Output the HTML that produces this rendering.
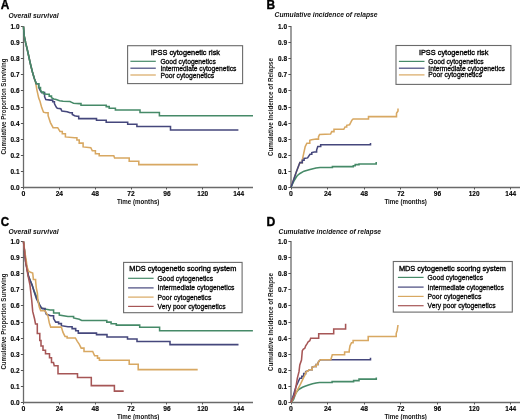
<!DOCTYPE html><html><head><meta charset="utf-8"><style>html,body{margin:0;padding:0;background:#fff;}svg{display:block;will-change:transform;}text{font-family:"Liberation Sans", sans-serif;}</style></head><body>
<svg width="520" height="420" viewBox="0 0 520 420">
<rect width="520" height="420" fill="#fff"/>
<text x="0.7" y="8.5" font-size="12" text-anchor="start" font-weight="bold" font-style="normal" fill="#000" textLength="8.6" lengthAdjust="spacingAndGlyphs" stroke="#000" stroke-width="0.35">A</text>
<text x="8.4" y="17.5" font-size="8.0" text-anchor="start" font-weight="bold" font-style="italic" fill="#111" textLength="50.2" lengthAdjust="spacingAndGlyphs" >Overall survival</text>
<text x="266.6" y="8.5" font-size="12" text-anchor="start" font-weight="bold" font-style="normal" fill="#000" textLength="8.6" lengthAdjust="spacingAndGlyphs" stroke="#000" stroke-width="0.35">B</text>
<text x="274.6" y="17.4" font-size="8.0" text-anchor="start" font-weight="bold" font-style="italic" fill="#111" textLength="103.0" lengthAdjust="spacingAndGlyphs" >Cumulative incidence of relapse</text>
<text x="0.7" y="225.7" font-size="12" text-anchor="start" font-weight="bold" font-style="normal" fill="#000" textLength="8.4" lengthAdjust="spacingAndGlyphs" stroke="#000" stroke-width="0.35">C</text>
<text x="8.4" y="234.0" font-size="8.0" text-anchor="start" font-weight="bold" font-style="italic" fill="#111" textLength="50.2" lengthAdjust="spacingAndGlyphs" >Overall survival</text>
<text x="266.6" y="225.7" font-size="12" text-anchor="start" font-weight="bold" font-style="normal" fill="#000" textLength="8.8" lengthAdjust="spacingAndGlyphs" stroke="#000" stroke-width="0.35">D</text>
<text x="278.6" y="233.9" font-size="8.0" text-anchor="start" font-weight="bold" font-style="italic" fill="#111" textLength="102.5" lengthAdjust="spacingAndGlyphs" >Cumulative incidence of relapse</text>
<line x1="23.5" y1="26.0" x2="23.5" y2="187.5" stroke="#6a6a6a" stroke-width="1.3"/>
<line x1="23.5" y1="187.5" x2="253" y2="187.5" stroke="#6a6a6a" stroke-width="1.3"/>
<line x1="20.9" y1="187.50" x2="23.5" y2="187.50" stroke="#555" stroke-width="1"/>
<text x="19.5" y="190.00" font-size="6.9" text-anchor="end" font-weight="bold" font-style="normal" fill="#000" textLength="9.0" lengthAdjust="spacingAndGlyphs" stroke="#000" stroke-width="0.12">0.0</text>
<line x1="20.9" y1="171.50" x2="23.5" y2="171.50" stroke="#555" stroke-width="1"/>
<text x="19.5" y="173.90" font-size="6.9" text-anchor="end" font-weight="bold" font-style="normal" fill="#000" textLength="9.0" lengthAdjust="spacingAndGlyphs" stroke="#000" stroke-width="0.12">0.1</text>
<line x1="20.9" y1="155.50" x2="23.5" y2="155.50" stroke="#555" stroke-width="1"/>
<text x="19.5" y="157.80" font-size="6.9" text-anchor="end" font-weight="bold" font-style="normal" fill="#000" textLength="9.0" lengthAdjust="spacingAndGlyphs" stroke="#000" stroke-width="0.12">0.2</text>
<line x1="20.9" y1="139.50" x2="23.5" y2="139.50" stroke="#555" stroke-width="1"/>
<text x="19.5" y="141.70" font-size="6.9" text-anchor="end" font-weight="bold" font-style="normal" fill="#000" textLength="9.0" lengthAdjust="spacingAndGlyphs" stroke="#000" stroke-width="0.12">0.3</text>
<line x1="20.9" y1="123.50" x2="23.5" y2="123.50" stroke="#555" stroke-width="1"/>
<text x="19.5" y="125.60" font-size="6.9" text-anchor="end" font-weight="bold" font-style="normal" fill="#000" textLength="9.0" lengthAdjust="spacingAndGlyphs" stroke="#000" stroke-width="0.12">0.4</text>
<line x1="20.9" y1="107.50" x2="23.5" y2="107.50" stroke="#555" stroke-width="1"/>
<text x="19.5" y="109.50" font-size="6.9" text-anchor="end" font-weight="bold" font-style="normal" fill="#000" textLength="9.0" lengthAdjust="spacingAndGlyphs" stroke="#000" stroke-width="0.12">0.5</text>
<line x1="20.9" y1="90.50" x2="23.5" y2="90.50" stroke="#555" stroke-width="1"/>
<text x="19.5" y="93.40" font-size="6.9" text-anchor="end" font-weight="bold" font-style="normal" fill="#000" textLength="9.0" lengthAdjust="spacingAndGlyphs" stroke="#000" stroke-width="0.12">0.6</text>
<line x1="20.9" y1="74.50" x2="23.5" y2="74.50" stroke="#555" stroke-width="1"/>
<text x="19.5" y="77.30" font-size="6.9" text-anchor="end" font-weight="bold" font-style="normal" fill="#000" textLength="9.0" lengthAdjust="spacingAndGlyphs" stroke="#000" stroke-width="0.12">0.7</text>
<line x1="20.9" y1="58.50" x2="23.5" y2="58.50" stroke="#555" stroke-width="1"/>
<text x="19.5" y="61.20" font-size="6.9" text-anchor="end" font-weight="bold" font-style="normal" fill="#000" textLength="9.0" lengthAdjust="spacingAndGlyphs" stroke="#000" stroke-width="0.12">0.8</text>
<line x1="20.9" y1="42.50" x2="23.5" y2="42.50" stroke="#555" stroke-width="1"/>
<text x="19.5" y="45.10" font-size="6.9" text-anchor="end" font-weight="bold" font-style="normal" fill="#000" textLength="9.0" lengthAdjust="spacingAndGlyphs" stroke="#000" stroke-width="0.12">0.9</text>
<line x1="20.9" y1="26.50" x2="23.5" y2="26.50" stroke="#555" stroke-width="1"/>
<text x="19.5" y="29.00" font-size="6.9" text-anchor="end" font-weight="bold" font-style="normal" fill="#000" textLength="9.0" lengthAdjust="spacingAndGlyphs" stroke="#000" stroke-width="0.12">1.0</text>
<line x1="23.50" y1="187.5" x2="23.50" y2="189.5" stroke="#555" stroke-width="1"/>
<text x="23.50" y="196.30" font-size="6.9" text-anchor="middle" font-weight="bold" font-style="normal" fill="#000" stroke="#000" stroke-width="0.12">0</text>
<line x1="59.50" y1="187.5" x2="59.50" y2="189.5" stroke="#555" stroke-width="1"/>
<text x="59.35" y="196.30" font-size="6.9" text-anchor="middle" font-weight="bold" font-style="normal" fill="#000" textLength="7.4" lengthAdjust="spacingAndGlyphs" stroke="#000" stroke-width="0.12">24</text>
<line x1="95.50" y1="187.5" x2="95.50" y2="189.5" stroke="#555" stroke-width="1"/>
<text x="95.20" y="196.30" font-size="6.9" text-anchor="middle" font-weight="bold" font-style="normal" fill="#000" textLength="7.4" lengthAdjust="spacingAndGlyphs" stroke="#000" stroke-width="0.12">48</text>
<line x1="131.50" y1="187.5" x2="131.50" y2="189.5" stroke="#555" stroke-width="1"/>
<text x="131.05" y="196.30" font-size="6.9" text-anchor="middle" font-weight="bold" font-style="normal" fill="#000" textLength="7.4" lengthAdjust="spacingAndGlyphs" stroke="#000" stroke-width="0.12">72</text>
<line x1="166.50" y1="187.5" x2="166.50" y2="189.5" stroke="#555" stroke-width="1"/>
<text x="166.90" y="196.30" font-size="6.9" text-anchor="middle" font-weight="bold" font-style="normal" fill="#000" textLength="7.4" lengthAdjust="spacingAndGlyphs" stroke="#000" stroke-width="0.12">96</text>
<line x1="202.50" y1="187.5" x2="202.50" y2="189.5" stroke="#555" stroke-width="1"/>
<text x="202.75" y="196.30" font-size="6.9" text-anchor="middle" font-weight="bold" font-style="normal" fill="#000" textLength="10.8" lengthAdjust="spacingAndGlyphs" stroke="#000" stroke-width="0.12">120</text>
<line x1="238.50" y1="187.5" x2="238.50" y2="189.5" stroke="#555" stroke-width="1"/>
<text x="238.60" y="196.30" font-size="6.9" text-anchor="middle" font-weight="bold" font-style="normal" fill="#000" textLength="10.8" lengthAdjust="spacingAndGlyphs" stroke="#000" stroke-width="0.12">144</text>
<text x="138.2" y="203.5" font-size="6.8" text-anchor="middle" font-weight="bold" font-style="normal" fill="#111" textLength="42.5" lengthAdjust="spacingAndGlyphs" >Time (months)</text>
<text transform="translate(5.6,106.6) rotate(-90)" x="0" y="0" font-size="6.7" font-weight="bold" text-anchor="middle" fill="#1a1a1a" textLength="96" lengthAdjust="spacingAndGlyphs">Cumulative Proportion Surviving</text>
<line x1="291.0" y1="26.0" x2="291.0" y2="187.5" stroke="#6a6a6a" stroke-width="1.3"/>
<line x1="291.0" y1="187.5" x2="520" y2="187.5" stroke="#6a6a6a" stroke-width="1.3"/>
<line x1="288.4" y1="187.50" x2="291.0" y2="187.50" stroke="#555" stroke-width="1"/>
<text x="287.0" y="190.00" font-size="6.9" text-anchor="end" font-weight="bold" font-style="normal" fill="#000" textLength="9.0" lengthAdjust="spacingAndGlyphs" stroke="#000" stroke-width="0.12">0.0</text>
<line x1="288.4" y1="171.50" x2="291.0" y2="171.50" stroke="#555" stroke-width="1"/>
<text x="287.0" y="173.90" font-size="6.9" text-anchor="end" font-weight="bold" font-style="normal" fill="#000" textLength="9.0" lengthAdjust="spacingAndGlyphs" stroke="#000" stroke-width="0.12">0.1</text>
<line x1="288.4" y1="155.50" x2="291.0" y2="155.50" stroke="#555" stroke-width="1"/>
<text x="287.0" y="157.80" font-size="6.9" text-anchor="end" font-weight="bold" font-style="normal" fill="#000" textLength="9.0" lengthAdjust="spacingAndGlyphs" stroke="#000" stroke-width="0.12">0.2</text>
<line x1="288.4" y1="139.50" x2="291.0" y2="139.50" stroke="#555" stroke-width="1"/>
<text x="287.0" y="141.70" font-size="6.9" text-anchor="end" font-weight="bold" font-style="normal" fill="#000" textLength="9.0" lengthAdjust="spacingAndGlyphs" stroke="#000" stroke-width="0.12">0.3</text>
<line x1="288.4" y1="123.50" x2="291.0" y2="123.50" stroke="#555" stroke-width="1"/>
<text x="287.0" y="125.60" font-size="6.9" text-anchor="end" font-weight="bold" font-style="normal" fill="#000" textLength="9.0" lengthAdjust="spacingAndGlyphs" stroke="#000" stroke-width="0.12">0.4</text>
<line x1="288.4" y1="107.50" x2="291.0" y2="107.50" stroke="#555" stroke-width="1"/>
<text x="287.0" y="109.50" font-size="6.9" text-anchor="end" font-weight="bold" font-style="normal" fill="#000" textLength="9.0" lengthAdjust="spacingAndGlyphs" stroke="#000" stroke-width="0.12">0.5</text>
<line x1="288.4" y1="90.50" x2="291.0" y2="90.50" stroke="#555" stroke-width="1"/>
<text x="287.0" y="93.40" font-size="6.9" text-anchor="end" font-weight="bold" font-style="normal" fill="#000" textLength="9.0" lengthAdjust="spacingAndGlyphs" stroke="#000" stroke-width="0.12">0.6</text>
<line x1="288.4" y1="74.50" x2="291.0" y2="74.50" stroke="#555" stroke-width="1"/>
<text x="287.0" y="77.30" font-size="6.9" text-anchor="end" font-weight="bold" font-style="normal" fill="#000" textLength="9.0" lengthAdjust="spacingAndGlyphs" stroke="#000" stroke-width="0.12">0.7</text>
<line x1="288.4" y1="58.50" x2="291.0" y2="58.50" stroke="#555" stroke-width="1"/>
<text x="287.0" y="61.20" font-size="6.9" text-anchor="end" font-weight="bold" font-style="normal" fill="#000" textLength="9.0" lengthAdjust="spacingAndGlyphs" stroke="#000" stroke-width="0.12">0.8</text>
<line x1="288.4" y1="42.50" x2="291.0" y2="42.50" stroke="#555" stroke-width="1"/>
<text x="287.0" y="45.10" font-size="6.9" text-anchor="end" font-weight="bold" font-style="normal" fill="#000" textLength="9.0" lengthAdjust="spacingAndGlyphs" stroke="#000" stroke-width="0.12">0.9</text>
<line x1="288.4" y1="26.50" x2="291.0" y2="26.50" stroke="#555" stroke-width="1"/>
<text x="287.0" y="29.00" font-size="6.9" text-anchor="end" font-weight="bold" font-style="normal" fill="#000" textLength="9.0" lengthAdjust="spacingAndGlyphs" stroke="#000" stroke-width="0.12">1.0</text>
<line x1="291.50" y1="187.5" x2="291.50" y2="189.5" stroke="#555" stroke-width="1"/>
<text x="291.00" y="196.30" font-size="6.9" text-anchor="middle" font-weight="bold" font-style="normal" fill="#000" stroke="#000" stroke-width="0.12">0</text>
<line x1="327.50" y1="187.5" x2="327.50" y2="189.5" stroke="#555" stroke-width="1"/>
<text x="327.62" y="196.30" font-size="6.9" text-anchor="middle" font-weight="bold" font-style="normal" fill="#000" textLength="7.4" lengthAdjust="spacingAndGlyphs" stroke="#000" stroke-width="0.12">24</text>
<line x1="364.50" y1="187.5" x2="364.50" y2="189.5" stroke="#555" stroke-width="1"/>
<text x="364.24" y="196.30" font-size="6.9" text-anchor="middle" font-weight="bold" font-style="normal" fill="#000" textLength="7.4" lengthAdjust="spacingAndGlyphs" stroke="#000" stroke-width="0.12">48</text>
<line x1="400.50" y1="187.5" x2="400.50" y2="189.5" stroke="#555" stroke-width="1"/>
<text x="400.86" y="196.30" font-size="6.9" text-anchor="middle" font-weight="bold" font-style="normal" fill="#000" textLength="7.4" lengthAdjust="spacingAndGlyphs" stroke="#000" stroke-width="0.12">72</text>
<line x1="437.50" y1="187.5" x2="437.50" y2="189.5" stroke="#555" stroke-width="1"/>
<text x="437.48" y="196.30" font-size="6.9" text-anchor="middle" font-weight="bold" font-style="normal" fill="#000" textLength="7.4" lengthAdjust="spacingAndGlyphs" stroke="#000" stroke-width="0.12">96</text>
<line x1="474.50" y1="187.5" x2="474.50" y2="189.5" stroke="#555" stroke-width="1"/>
<text x="474.10" y="196.30" font-size="6.9" text-anchor="middle" font-weight="bold" font-style="normal" fill="#000" textLength="10.8" lengthAdjust="spacingAndGlyphs" stroke="#000" stroke-width="0.12">120</text>
<line x1="510.50" y1="187.5" x2="510.50" y2="189.5" stroke="#555" stroke-width="1"/>
<text x="510.72" y="196.30" font-size="6.9" text-anchor="middle" font-weight="bold" font-style="normal" fill="#000" textLength="10.8" lengthAdjust="spacingAndGlyphs" stroke="#000" stroke-width="0.12">144</text>
<text x="405.7" y="203.5" font-size="6.8" text-anchor="middle" font-weight="bold" font-style="normal" fill="#111" textLength="42.5" lengthAdjust="spacingAndGlyphs" >Time (months)</text>
<text transform="translate(273.2,107.0) rotate(-90)" x="0" y="0" font-size="6.7" font-weight="bold" text-anchor="middle" fill="#1a1a1a" textLength="98.2" lengthAdjust="spacingAndGlyphs">Cumulative Incidence of Relapse</text>
<line x1="23.5" y1="241.0" x2="23.5" y2="402.5" stroke="#6a6a6a" stroke-width="1.3"/>
<line x1="23.5" y1="402.5" x2="253" y2="402.5" stroke="#6a6a6a" stroke-width="1.3"/>
<line x1="20.9" y1="402.50" x2="23.5" y2="402.50" stroke="#555" stroke-width="1"/>
<text x="19.5" y="405.00" font-size="6.9" text-anchor="end" font-weight="bold" font-style="normal" fill="#000" textLength="9.0" lengthAdjust="spacingAndGlyphs" stroke="#000" stroke-width="0.12">0.0</text>
<line x1="20.9" y1="386.50" x2="23.5" y2="386.50" stroke="#555" stroke-width="1"/>
<text x="19.5" y="388.90" font-size="6.9" text-anchor="end" font-weight="bold" font-style="normal" fill="#000" textLength="9.0" lengthAdjust="spacingAndGlyphs" stroke="#000" stroke-width="0.12">0.1</text>
<line x1="20.9" y1="370.50" x2="23.5" y2="370.50" stroke="#555" stroke-width="1"/>
<text x="19.5" y="372.80" font-size="6.9" text-anchor="end" font-weight="bold" font-style="normal" fill="#000" textLength="9.0" lengthAdjust="spacingAndGlyphs" stroke="#000" stroke-width="0.12">0.2</text>
<line x1="20.9" y1="354.50" x2="23.5" y2="354.50" stroke="#555" stroke-width="1"/>
<text x="19.5" y="356.70" font-size="6.9" text-anchor="end" font-weight="bold" font-style="normal" fill="#000" textLength="9.0" lengthAdjust="spacingAndGlyphs" stroke="#000" stroke-width="0.12">0.3</text>
<line x1="20.9" y1="338.50" x2="23.5" y2="338.50" stroke="#555" stroke-width="1"/>
<text x="19.5" y="340.60" font-size="6.9" text-anchor="end" font-weight="bold" font-style="normal" fill="#000" textLength="9.0" lengthAdjust="spacingAndGlyphs" stroke="#000" stroke-width="0.12">0.4</text>
<line x1="20.9" y1="322.50" x2="23.5" y2="322.50" stroke="#555" stroke-width="1"/>
<text x="19.5" y="324.50" font-size="6.9" text-anchor="end" font-weight="bold" font-style="normal" fill="#000" textLength="9.0" lengthAdjust="spacingAndGlyphs" stroke="#000" stroke-width="0.12">0.5</text>
<line x1="20.9" y1="305.50" x2="23.5" y2="305.50" stroke="#555" stroke-width="1"/>
<text x="19.5" y="308.40" font-size="6.9" text-anchor="end" font-weight="bold" font-style="normal" fill="#000" textLength="9.0" lengthAdjust="spacingAndGlyphs" stroke="#000" stroke-width="0.12">0.6</text>
<line x1="20.9" y1="289.50" x2="23.5" y2="289.50" stroke="#555" stroke-width="1"/>
<text x="19.5" y="292.30" font-size="6.9" text-anchor="end" font-weight="bold" font-style="normal" fill="#000" textLength="9.0" lengthAdjust="spacingAndGlyphs" stroke="#000" stroke-width="0.12">0.7</text>
<line x1="20.9" y1="273.50" x2="23.5" y2="273.50" stroke="#555" stroke-width="1"/>
<text x="19.5" y="276.20" font-size="6.9" text-anchor="end" font-weight="bold" font-style="normal" fill="#000" textLength="9.0" lengthAdjust="spacingAndGlyphs" stroke="#000" stroke-width="0.12">0.8</text>
<line x1="20.9" y1="257.50" x2="23.5" y2="257.50" stroke="#555" stroke-width="1"/>
<text x="19.5" y="260.10" font-size="6.9" text-anchor="end" font-weight="bold" font-style="normal" fill="#000" textLength="9.0" lengthAdjust="spacingAndGlyphs" stroke="#000" stroke-width="0.12">0.9</text>
<line x1="20.9" y1="241.50" x2="23.5" y2="241.50" stroke="#555" stroke-width="1"/>
<text x="19.5" y="244.00" font-size="6.9" text-anchor="end" font-weight="bold" font-style="normal" fill="#000" textLength="9.0" lengthAdjust="spacingAndGlyphs" stroke="#000" stroke-width="0.12">1.0</text>
<line x1="23.50" y1="402.5" x2="23.50" y2="404.5" stroke="#555" stroke-width="1"/>
<text x="23.50" y="411.30" font-size="6.9" text-anchor="middle" font-weight="bold" font-style="normal" fill="#000" stroke="#000" stroke-width="0.12">0</text>
<line x1="59.50" y1="402.5" x2="59.50" y2="404.5" stroke="#555" stroke-width="1"/>
<text x="59.35" y="411.30" font-size="6.9" text-anchor="middle" font-weight="bold" font-style="normal" fill="#000" textLength="7.4" lengthAdjust="spacingAndGlyphs" stroke="#000" stroke-width="0.12">24</text>
<line x1="95.50" y1="402.5" x2="95.50" y2="404.5" stroke="#555" stroke-width="1"/>
<text x="95.20" y="411.30" font-size="6.9" text-anchor="middle" font-weight="bold" font-style="normal" fill="#000" textLength="7.4" lengthAdjust="spacingAndGlyphs" stroke="#000" stroke-width="0.12">48</text>
<line x1="131.50" y1="402.5" x2="131.50" y2="404.5" stroke="#555" stroke-width="1"/>
<text x="131.05" y="411.30" font-size="6.9" text-anchor="middle" font-weight="bold" font-style="normal" fill="#000" textLength="7.4" lengthAdjust="spacingAndGlyphs" stroke="#000" stroke-width="0.12">72</text>
<line x1="166.50" y1="402.5" x2="166.50" y2="404.5" stroke="#555" stroke-width="1"/>
<text x="166.90" y="411.30" font-size="6.9" text-anchor="middle" font-weight="bold" font-style="normal" fill="#000" textLength="7.4" lengthAdjust="spacingAndGlyphs" stroke="#000" stroke-width="0.12">96</text>
<line x1="202.50" y1="402.5" x2="202.50" y2="404.5" stroke="#555" stroke-width="1"/>
<text x="202.75" y="411.30" font-size="6.9" text-anchor="middle" font-weight="bold" font-style="normal" fill="#000" textLength="10.8" lengthAdjust="spacingAndGlyphs" stroke="#000" stroke-width="0.12">120</text>
<line x1="238.50" y1="402.5" x2="238.50" y2="404.5" stroke="#555" stroke-width="1"/>
<text x="238.60" y="411.30" font-size="6.9" text-anchor="middle" font-weight="bold" font-style="normal" fill="#000" textLength="10.8" lengthAdjust="spacingAndGlyphs" stroke="#000" stroke-width="0.12">144</text>
<text x="138.2" y="418.5" font-size="6.8" text-anchor="middle" font-weight="bold" font-style="normal" fill="#111" textLength="42.5" lengthAdjust="spacingAndGlyphs" >Time (months)</text>
<text transform="translate(5.6,321.6) rotate(-90)" x="0" y="0" font-size="6.7" font-weight="bold" text-anchor="middle" fill="#1a1a1a" textLength="96" lengthAdjust="spacingAndGlyphs">Cumulative Proportion Surviving</text>
<line x1="291.0" y1="241.0" x2="291.0" y2="402.5" stroke="#6a6a6a" stroke-width="1.3"/>
<line x1="291.0" y1="402.5" x2="520" y2="402.5" stroke="#6a6a6a" stroke-width="1.3"/>
<line x1="288.4" y1="402.50" x2="291.0" y2="402.50" stroke="#555" stroke-width="1"/>
<text x="287.0" y="405.00" font-size="6.9" text-anchor="end" font-weight="bold" font-style="normal" fill="#000" textLength="9.0" lengthAdjust="spacingAndGlyphs" stroke="#000" stroke-width="0.12">0.0</text>
<line x1="288.4" y1="386.50" x2="291.0" y2="386.50" stroke="#555" stroke-width="1"/>
<text x="287.0" y="388.90" font-size="6.9" text-anchor="end" font-weight="bold" font-style="normal" fill="#000" textLength="9.0" lengthAdjust="spacingAndGlyphs" stroke="#000" stroke-width="0.12">0.1</text>
<line x1="288.4" y1="370.50" x2="291.0" y2="370.50" stroke="#555" stroke-width="1"/>
<text x="287.0" y="372.80" font-size="6.9" text-anchor="end" font-weight="bold" font-style="normal" fill="#000" textLength="9.0" lengthAdjust="spacingAndGlyphs" stroke="#000" stroke-width="0.12">0.2</text>
<line x1="288.4" y1="354.50" x2="291.0" y2="354.50" stroke="#555" stroke-width="1"/>
<text x="287.0" y="356.70" font-size="6.9" text-anchor="end" font-weight="bold" font-style="normal" fill="#000" textLength="9.0" lengthAdjust="spacingAndGlyphs" stroke="#000" stroke-width="0.12">0.3</text>
<line x1="288.4" y1="338.50" x2="291.0" y2="338.50" stroke="#555" stroke-width="1"/>
<text x="287.0" y="340.60" font-size="6.9" text-anchor="end" font-weight="bold" font-style="normal" fill="#000" textLength="9.0" lengthAdjust="spacingAndGlyphs" stroke="#000" stroke-width="0.12">0.4</text>
<line x1="288.4" y1="322.50" x2="291.0" y2="322.50" stroke="#555" stroke-width="1"/>
<text x="287.0" y="324.50" font-size="6.9" text-anchor="end" font-weight="bold" font-style="normal" fill="#000" textLength="9.0" lengthAdjust="spacingAndGlyphs" stroke="#000" stroke-width="0.12">0.5</text>
<line x1="288.4" y1="305.50" x2="291.0" y2="305.50" stroke="#555" stroke-width="1"/>
<text x="287.0" y="308.40" font-size="6.9" text-anchor="end" font-weight="bold" font-style="normal" fill="#000" textLength="9.0" lengthAdjust="spacingAndGlyphs" stroke="#000" stroke-width="0.12">0.6</text>
<line x1="288.4" y1="289.50" x2="291.0" y2="289.50" stroke="#555" stroke-width="1"/>
<text x="287.0" y="292.30" font-size="6.9" text-anchor="end" font-weight="bold" font-style="normal" fill="#000" textLength="9.0" lengthAdjust="spacingAndGlyphs" stroke="#000" stroke-width="0.12">0.7</text>
<line x1="288.4" y1="273.50" x2="291.0" y2="273.50" stroke="#555" stroke-width="1"/>
<text x="287.0" y="276.20" font-size="6.9" text-anchor="end" font-weight="bold" font-style="normal" fill="#000" textLength="9.0" lengthAdjust="spacingAndGlyphs" stroke="#000" stroke-width="0.12">0.8</text>
<line x1="288.4" y1="257.50" x2="291.0" y2="257.50" stroke="#555" stroke-width="1"/>
<text x="287.0" y="260.10" font-size="6.9" text-anchor="end" font-weight="bold" font-style="normal" fill="#000" textLength="9.0" lengthAdjust="spacingAndGlyphs" stroke="#000" stroke-width="0.12">0.9</text>
<line x1="288.4" y1="241.50" x2="291.0" y2="241.50" stroke="#555" stroke-width="1"/>
<text x="287.0" y="244.00" font-size="6.9" text-anchor="end" font-weight="bold" font-style="normal" fill="#000" textLength="9.0" lengthAdjust="spacingAndGlyphs" stroke="#000" stroke-width="0.12">1.0</text>
<line x1="291.50" y1="402.5" x2="291.50" y2="404.5" stroke="#555" stroke-width="1"/>
<text x="291.00" y="411.30" font-size="6.9" text-anchor="middle" font-weight="bold" font-style="normal" fill="#000" stroke="#000" stroke-width="0.12">0</text>
<line x1="327.50" y1="402.5" x2="327.50" y2="404.5" stroke="#555" stroke-width="1"/>
<text x="327.62" y="411.30" font-size="6.9" text-anchor="middle" font-weight="bold" font-style="normal" fill="#000" textLength="7.4" lengthAdjust="spacingAndGlyphs" stroke="#000" stroke-width="0.12">24</text>
<line x1="364.50" y1="402.5" x2="364.50" y2="404.5" stroke="#555" stroke-width="1"/>
<text x="364.24" y="411.30" font-size="6.9" text-anchor="middle" font-weight="bold" font-style="normal" fill="#000" textLength="7.4" lengthAdjust="spacingAndGlyphs" stroke="#000" stroke-width="0.12">48</text>
<line x1="400.50" y1="402.5" x2="400.50" y2="404.5" stroke="#555" stroke-width="1"/>
<text x="400.86" y="411.30" font-size="6.9" text-anchor="middle" font-weight="bold" font-style="normal" fill="#000" textLength="7.4" lengthAdjust="spacingAndGlyphs" stroke="#000" stroke-width="0.12">72</text>
<line x1="437.50" y1="402.5" x2="437.50" y2="404.5" stroke="#555" stroke-width="1"/>
<text x="437.48" y="411.30" font-size="6.9" text-anchor="middle" font-weight="bold" font-style="normal" fill="#000" textLength="7.4" lengthAdjust="spacingAndGlyphs" stroke="#000" stroke-width="0.12">96</text>
<line x1="474.50" y1="402.5" x2="474.50" y2="404.5" stroke="#555" stroke-width="1"/>
<text x="474.10" y="411.30" font-size="6.9" text-anchor="middle" font-weight="bold" font-style="normal" fill="#000" textLength="10.8" lengthAdjust="spacingAndGlyphs" stroke="#000" stroke-width="0.12">120</text>
<line x1="510.50" y1="402.5" x2="510.50" y2="404.5" stroke="#555" stroke-width="1"/>
<text x="510.72" y="411.30" font-size="6.9" text-anchor="middle" font-weight="bold" font-style="normal" fill="#000" textLength="10.8" lengthAdjust="spacingAndGlyphs" stroke="#000" stroke-width="0.12">144</text>
<text x="405.7" y="418.5" font-size="6.8" text-anchor="middle" font-weight="bold" font-style="normal" fill="#111" textLength="42.5" lengthAdjust="spacingAndGlyphs" >Time (months)</text>
<text transform="translate(273.2,322.0) rotate(-90)" x="0" y="0" font-size="6.7" font-weight="bold" text-anchor="middle" fill="#1a1a1a" textLength="98.2" lengthAdjust="spacingAndGlyphs">Cumulative Incidence of Relapse</text>
<polyline points="23.50,26.50 24.20,36.00 25.70,43.00 27.10,48.80 28.80,56.50 30.20,63.00 31.30,67.50 32.70,73.10 34.50,79.00 35.30,81.00 36.90,89.80 38.70,98.10 40.00,101.30 41.70,107.60 43.50,112.20 45.80,112.80 48.10,112.80 48.10,115.70 50.40,122.60 53.10,127.70 57.70,127.70 60.00,131.50 62.30,131.50 62.30,133.80 65.40,133.80 65.40,136.90 74.60,137.70 76.90,137.70 76.90,140.00 79.20,140.00 79.20,143.10 83.10,143.10 83.10,146.90 90.80,147.70 92.30,150.80 95.40,150.80 95.40,153.80 99.20,153.80 99.20,155.70 113.80,155.70 114.60,158.00 129.20,158.00 129.20,161.20 138.80,161.20 138.80,164.60 197.90,164.60" fill="none" stroke="#d8a862" stroke-width="1.55" stroke-linejoin="miter"/>
<polyline points="23.50,26.50 24.20,36.00 25.70,43.00 27.10,48.80 28.80,56.50 30.20,63.00 31.30,67.50 32.70,73.10 34.50,79.00 35.30,81.00 36.30,83.80 38.70,83.80 38.70,87.40 40.00,90.00 41.60,92.60 44.60,92.60 44.60,96.70 45.80,99.50 50.40,100.10 52.70,100.10 52.70,101.80 54.40,101.80 54.40,103.60 56.20,107.00 57.30,108.20 60.80,108.80 61.90,111.10 67.10,111.70 70.00,112.80 72.30,112.80 72.30,114.50 74.60,115.70 76.90,116.30 78.70,116.30 78.70,118.60 96.50,118.60 96.50,120.30 106.20,120.30 106.20,122.30 127.70,122.30 127.70,124.20 136.90,124.20 136.90,126.50 170.50,126.50 170.50,130.00 238.40,130.00" fill="none" stroke="#45477c" stroke-width="1.55" stroke-linejoin="miter"/>
<polyline points="23.50,26.50 24.20,36.00 25.70,43.00 27.10,48.80 28.80,56.50 30.20,63.00 31.30,67.50 32.70,73.10 34.50,79.00 35.30,81.00 36.30,83.80 38.70,83.80 38.70,87.40 40.50,87.40 40.50,89.80 41.60,92.10 43.50,92.10 43.50,93.80 46.90,94.30 49.20,94.30 49.20,96.10 51.50,96.10 51.50,97.80 53.80,99.00 56.20,99.50 59.60,100.70 63.10,101.30 70.00,101.60 71.70,102.40 73.50,103.20 79.20,103.60 81.00,103.60 81.00,105.30 106.20,105.30 106.20,106.60 109.20,106.60 109.20,108.20 115.40,108.20 115.40,110.00 140.00,110.00 140.00,112.50 159.40,112.50 159.40,115.80 253.00,115.80" fill="none" stroke="#468a68" stroke-width="1.55" stroke-linejoin="miter"/>
<polyline points="291.00,187.30 296.30,172.10 299.90,162.60 302.30,162.60 302.30,160.20 303.50,154.30 305.20,146.60 306.90,143.20 309.80,143.20 309.80,140.30 311.50,139.70 316.20,139.10 318.50,139.10 318.50,136.80 319.60,134.50 330.60,134.00 331.70,131.60 334.00,131.60 334.00,129.30 343.80,129.30 345.00,127.00 346.70,127.00 346.70,125.30 349.60,124.70 350.80,122.40 351.90,120.10 353.10,118.90 368.50,118.90 368.50,116.60 396.50,116.60 396.50,113.30 398.00,111.00 398.00,108.50" fill="none" stroke="#d8a862" stroke-width="1.55" stroke-linejoin="miter"/>
<polyline points="291.00,187.30 292.30,184.50 293.50,182.00 294.50,180.00 296.00,177.50 297.20,175.70 300.00,173.50 304.00,171.20 310.00,169.40 316.00,168.10 320.00,167.40 332.40,167.40 332.40,166.60 353.30,166.60 353.30,165.70 355.20,165.70 355.20,164.60 359.00,164.60 359.00,163.90 376.20,163.90 376.20,162.00" fill="none" stroke="#468a68" stroke-width="1.55" stroke-linejoin="miter"/>
<polyline points="291.00,187.30 296.30,172.10 299.90,162.60 302.30,162.60 302.30,160.20 304.10,160.20 304.10,158.50 307.60,157.90 310.00,154.30 311.80,154.30 311.80,152.50 314.20,151.90 316.60,151.90 316.60,150.10 317.80,146.50 320.70,146.50 320.70,144.80 370.50,144.80 370.50,143.00" fill="none" stroke="#45477c" stroke-width="1.55" stroke-linejoin="miter"/>
<polyline points="23.50,241.50 25.70,262.00 28.60,276.60 32.10,285.10 34.30,291.40 37.10,298.00 40.70,307.90 46.40,309.30 50.00,310.00 53.60,310.00 53.60,312.90 59.30,312.90 59.30,315.00 67.90,316.40 73.60,316.40 73.60,317.90 79.30,319.30 81.70,320.50 106.80,320.50 106.80,322.10 111.10,322.10 111.10,323.70 116.30,323.70 116.30,325.10 139.70,325.10 139.70,327.20 159.60,327.20 159.60,330.70 252.90,330.70" fill="none" stroke="#468a68" stroke-width="1.55" stroke-linejoin="miter"/>
<polyline points="23.50,241.50 25.70,262.00 28.60,276.60 32.10,285.10 34.30,292.30 36.40,298.60 39.30,304.30 42.10,308.60 45.00,308.60 45.00,310.70 46.40,314.30 50.70,315.70 53.60,315.70 53.60,318.60 55.70,322.10 58.60,322.10 58.60,323.60 61.40,323.60 61.40,325.70 67.90,326.80 72.10,326.80 72.10,328.60 75.70,328.60 75.70,330.70 78.30,330.70 78.30,333.10 96.50,333.10 96.50,334.60 107.00,334.60 107.00,337.00 127.50,337.00 127.50,339.00 137.00,339.00 137.00,341.50 170.00,341.50 170.00,344.60 238.50,344.60" fill="none" stroke="#45477c" stroke-width="1.55" stroke-linejoin="miter"/>
<polyline points="23.50,241.50 24.90,252.30 26.30,260.90 27.00,266.60 28.40,270.90 30.60,272.30 32.70,273.00 33.40,279.40 35.60,279.40 35.60,280.90 36.30,288.00 37.40,293.00 37.90,300.70 39.30,307.10 40.70,310.70 45.00,310.70 47.90,315.70 49.30,322.90 50.70,327.10 61.40,327.10 62.90,332.10 65.00,336.40 67.10,336.40 67.10,337.90 75.40,337.90 77.30,341.30 79.20,344.20 81.20,348.10 84.00,348.10 84.00,351.50 92.70,351.50 94.60,355.80 97.50,355.80 97.50,358.10 99.40,358.10 99.40,360.20 129.20,360.20 129.20,364.30 138.20,364.30 138.20,369.60 197.70,369.60" fill="none" stroke="#d8a862" stroke-width="1.55" stroke-linejoin="miter"/>
<polyline points="23.50,241.50 25.70,262.30 27.90,275.10 30.00,285.10 31.10,295.00 31.70,300.00 32.70,311.40 34.60,319.00 35.50,324.00 37.30,324.00 37.30,326.50 37.30,333.50 39.80,333.50 39.80,340.50 41.00,340.50 41.00,346.00 43.00,346.00 43.00,350.30 45.50,350.30 45.50,353.80 49.50,353.80 49.50,357.80 51.50,357.80 51.50,362.50 53.50,362.50 54.20,365.70 58.00,365.70 58.00,373.70 77.50,373.70 77.50,377.50 91.30,377.50 91.30,385.60 114.40,385.60 114.40,391.10 123.70,391.10" fill="none" stroke="#a65656" stroke-width="1.55" stroke-linejoin="miter"/>
<polyline points="291.00,402.30 292.20,401.20 293.50,399.50 294.80,396.00 296.20,392.50 298.00,390.20 300.00,388.70 302.50,387.30 305.00,386.30 308.50,385.00 312.50,383.80 316.00,383.00 319.50,382.40 332.10,382.40 332.10,381.60 353.60,381.60 353.60,380.60 359.00,380.60 359.00,379.10 376.30,379.10 376.30,377.40" fill="none" stroke="#468a68" stroke-width="1.55" stroke-linejoin="miter"/>
<polyline points="291.00,402.30 293.50,395.00 295.90,386.70 297.80,382.80 299.80,378.20 301.80,378.20 301.80,376.20 303.70,376.20 303.70,373.60 305.70,373.60 305.70,371.60 307.70,371.00 309.60,369.70 312.20,369.70 312.20,367.00 314.20,366.40 316.20,366.40 316.20,364.40 318.10,364.40 318.10,362.50 319.50,360.50 320.80,359.80 370.50,359.80 370.50,357.80" fill="none" stroke="#45477c" stroke-width="1.55" stroke-linejoin="miter"/>
<polyline points="291.00,402.30 295.90,393.20 297.80,389.30 300.50,384.10 302.40,380.10 303.70,377.50 305.00,374.90 305.70,372.30 307.70,371.00 309.60,369.70 312.20,369.70 312.20,367.00 314.20,366.40 316.20,366.40 316.20,364.40 318.10,364.40 318.10,362.50 319.50,360.50 320.80,359.80 330.80,359.80 332.30,354.70 344.60,354.70 344.60,351.90 349.20,351.90 349.20,350.40 350.00,345.80 351.50,342.70 353.10,342.70 353.10,340.40 368.20,340.40 368.20,336.50 396.20,336.50 396.20,333.50 397.20,330.40 398.00,325.00" fill="none" stroke="#d8a862" stroke-width="1.55" stroke-linejoin="miter"/>
<polyline points="291.00,402.30 292.50,399.00 294.00,396.70 295.70,388.30 296.50,383.30 297.30,378.30 299.00,371.70 299.80,365.00 301.50,360.00 302.30,350.80 303.20,349.20 304.80,348.30 305.70,345.80 307.30,343.30 308.20,341.70 309.80,340.80 310.70,338.30 318.70,338.30 318.70,333.70 333.70,333.70 333.70,328.90 345.60,328.90 345.60,323.80" fill="none" stroke="#a65656" stroke-width="1.55" stroke-linejoin="miter"/>
<rect x="127.6" y="45.7" width="115.0" height="37.89999999999999" fill="#fff" stroke="#6a6a6a" stroke-width="1.1"/>
<text x="150.7" y="54.599999999999994" font-size="7.7" text-anchor="start" font-weight="normal" font-style="normal" fill="#000" textLength="69.3" lengthAdjust="spacingAndGlyphs" stroke="#000" stroke-width="0.36">IPSS cytogenetic risk</text>
<line x1="130.4" y1="61.3" x2="155.8" y2="61.3" stroke="#468a68" stroke-width="1.2"/>
<text x="160.4" y="63.8" font-size="6.9" text-anchor="start" font-weight="normal" font-style="normal" fill="#000" textLength="55.4" lengthAdjust="spacingAndGlyphs" stroke="#000" stroke-width="0.28">Good cytogenetics</text>
<line x1="130.4" y1="68.2" x2="155.8" y2="68.2" stroke="#45477c" stroke-width="1.2"/>
<text x="160.4" y="70.7" font-size="6.9" text-anchor="start" font-weight="normal" font-style="normal" fill="#000" textLength="76" lengthAdjust="spacingAndGlyphs" stroke="#000" stroke-width="0.28">Intermediate cytogenetics</text>
<line x1="130.4" y1="75.0" x2="155.8" y2="75.0" stroke="#d8a862" stroke-width="1.2"/>
<text x="160.4" y="77.5" font-size="6.9" text-anchor="start" font-weight="normal" font-style="normal" fill="#000" textLength="53.8" lengthAdjust="spacingAndGlyphs" stroke="#000" stroke-width="0.28">Poor cytogenetics</text>
<rect x="396.0" y="45.5" width="114.89999999999998" height="38.900000000000006" fill="#fff" stroke="#6a6a6a" stroke-width="1.1"/>
<text x="418.9" y="54.599999999999994" font-size="7.7" text-anchor="start" font-weight="normal" font-style="normal" fill="#000" textLength="69.6" lengthAdjust="spacingAndGlyphs" stroke="#000" stroke-width="0.36">IPSS cytogenetic risk</text>
<line x1="398.9" y1="61.4" x2="424.5" y2="61.4" stroke="#468a68" stroke-width="1.2"/>
<text x="428.3" y="63.9" font-size="6.9" text-anchor="start" font-weight="normal" font-style="normal" fill="#000" textLength="55.4" lengthAdjust="spacingAndGlyphs" stroke="#000" stroke-width="0.28">Good cytogenetics</text>
<line x1="398.9" y1="68.2" x2="424.5" y2="68.2" stroke="#45477c" stroke-width="1.2"/>
<text x="428.3" y="70.7" font-size="6.9" text-anchor="start" font-weight="normal" font-style="normal" fill="#000" textLength="76.6" lengthAdjust="spacingAndGlyphs" stroke="#000" stroke-width="0.28">Intermediate cytogenetics</text>
<line x1="398.9" y1="74.9" x2="424.5" y2="74.9" stroke="#d8a862" stroke-width="1.2"/>
<text x="428.3" y="77.4" font-size="6.9" text-anchor="start" font-weight="normal" font-style="normal" fill="#000" textLength="53.8" lengthAdjust="spacingAndGlyphs" stroke="#000" stroke-width="0.28">Poor cytogenetics</text>
<rect x="123.6" y="262.4" width="118.5" height="50.30000000000001" fill="#fff" stroke="#6a6a6a" stroke-width="1.1"/>
<text x="129.3" y="271.2" font-size="7.7" text-anchor="start" font-weight="normal" font-style="normal" fill="#000" textLength="107" lengthAdjust="spacingAndGlyphs" stroke="#000" stroke-width="0.36">MDS cytogenetic scoring system</text>
<line x1="128.1" y1="278.3" x2="153.6" y2="278.3" stroke="#468a68" stroke-width="1.2"/>
<text x="157.6" y="280.8" font-size="6.9" text-anchor="start" font-weight="normal" font-style="normal" fill="#000" textLength="55.4" lengthAdjust="spacingAndGlyphs" stroke="#000" stroke-width="0.28">Good cytogenetics</text>
<line x1="128.1" y1="287.9" x2="153.6" y2="287.9" stroke="#45477c" stroke-width="1.2"/>
<text x="157.6" y="290.4" font-size="6.9" text-anchor="start" font-weight="normal" font-style="normal" fill="#000" textLength="76.8" lengthAdjust="spacingAndGlyphs" stroke="#000" stroke-width="0.28">Intermediate cytogenetics</text>
<line x1="128.1" y1="297.1" x2="153.6" y2="297.1" stroke="#d8a862" stroke-width="1.2"/>
<text x="157.6" y="299.6" font-size="6.9" text-anchor="start" font-weight="normal" font-style="normal" fill="#000" textLength="53.8" lengthAdjust="spacingAndGlyphs" stroke="#000" stroke-width="0.28">Poor cytogenetics</text>
<line x1="128.1" y1="306.4" x2="153.6" y2="306.4" stroke="#a65656" stroke-width="1.2"/>
<text x="157.6" y="308.9" font-size="6.9" text-anchor="start" font-weight="normal" font-style="normal" fill="#000" textLength="67.9" lengthAdjust="spacingAndGlyphs" stroke="#000" stroke-width="0.28">Very poor cytogenetics</text>
<rect x="393.3" y="261.5" width="118.99999999999994" height="50.60000000000002" fill="#fff" stroke="#6a6a6a" stroke-width="1.1"/>
<text x="398.9" y="270.6" font-size="7.7" text-anchor="start" font-weight="normal" font-style="normal" fill="#000" textLength="107.1" lengthAdjust="spacingAndGlyphs" stroke="#000" stroke-width="0.36">MDS cytogenetic scoring system</text>
<line x1="397.9" y1="277.4" x2="423.6" y2="277.4" stroke="#468a68" stroke-width="1.2"/>
<text x="427.6" y="279.9" font-size="6.9" text-anchor="start" font-weight="normal" font-style="normal" fill="#000" textLength="55.4" lengthAdjust="spacingAndGlyphs" stroke="#000" stroke-width="0.28">Good cytogenetics</text>
<line x1="397.9" y1="287.1" x2="423.6" y2="287.1" stroke="#45477c" stroke-width="1.2"/>
<text x="427.6" y="289.6" font-size="6.9" text-anchor="start" font-weight="normal" font-style="normal" fill="#000" textLength="76.2" lengthAdjust="spacingAndGlyphs" stroke="#000" stroke-width="0.28">Intermediate cytogenetics</text>
<line x1="397.9" y1="296.4" x2="423.6" y2="296.4" stroke="#d8a862" stroke-width="1.2"/>
<text x="427.6" y="298.9" font-size="6.9" text-anchor="start" font-weight="normal" font-style="normal" fill="#000" textLength="53.8" lengthAdjust="spacingAndGlyphs" stroke="#000" stroke-width="0.28">Poor cytogenetics</text>
<line x1="397.9" y1="305.7" x2="423.6" y2="305.7" stroke="#a65656" stroke-width="1.2"/>
<text x="427.6" y="308.2" font-size="6.9" text-anchor="start" font-weight="normal" font-style="normal" fill="#000" textLength="68" lengthAdjust="spacingAndGlyphs" stroke="#000" stroke-width="0.28">Very poor cytogenetics</text>
</svg></body></html>
